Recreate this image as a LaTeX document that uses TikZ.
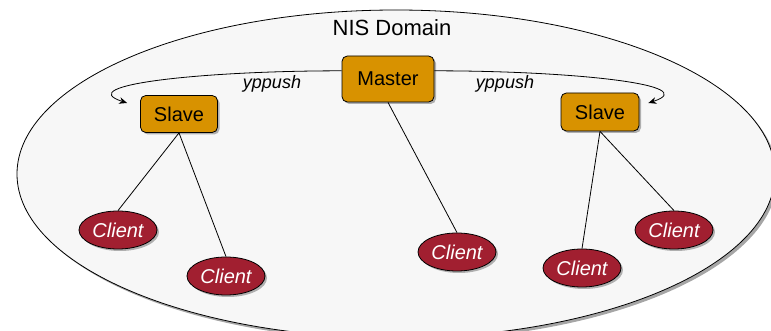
\documentclass[tikz,border=0pt]{standalone}
\usepackage{fontspec}
\setmainfont{Liberation Sans}
\usetikzlibrary{shapes.geometric,shadows,arrows.meta}

\definecolor{serverorange}{HTML}{D89200}
\definecolor{clientred}{HTML}{A11F30}
\definecolor{domaingray}{HTML}{F7F7F7}

\begin{document}
\begin{tikzpicture}[x=0.75pt, y=-0.75pt, line width=0.6pt, >={Stealth[length=6pt,width=5pt]},
        domainring/.style={ellipse, draw, fill=domaingray, inner sep=0pt,
                minimum width=568.5pt, minimum height=246pt,
                drop shadow={shadow xshift=2pt, shadow yshift=-2pt, opacity=0.7}},
        server/.style={draw, fill=serverorange, rounded corners=4pt, inner sep=0pt,
                font=\fontsize{15}{18}\selectfont,
                drop shadow={shadow xshift=1.5pt, shadow yshift=-1.5pt, opacity=0.6}},
        client/.style={ellipse, draw, fill=clientred, text=white, inner sep=0pt,
                minimum width=58.5pt, minimum height=28.5pt,
                font=\fontsize{15}{18}\selectfont\itshape,
                drop shadow={shadow xshift=1.5pt, shadow yshift=-1.5pt, opacity=0.6}},
        push/.style={font=\fontsize{13.5}{16}\selectfont\itshape}]
        \useasboundingbox (0,0) rectangle (771,331);
        \clip (0,0) rectangle (771,331);

        % the domain
        \node[domainring] (nis) at (396,174) {};
        \node[font=\fontsize{16.5}{20}\selectfont, inner sep=0pt] (nistitle) at (392,28) {NIS Domain};

        % servers
        \node[server, minimum width=69pt, minimum height=34.5pt] (master) at (388,79) {Master};
        \node[server, minimum width=57.75pt, minimum height=27.75pt] (lslave) at (179,114) {Slave};
        \node[server, minimum width=58.5pt, minimum height=28.5pt] (rslave) at (600,112) {Slave};

        % clients
        \foreach \name/\x/\y in {c1/118/230, c2/226/276, c3/457/252, c4/582/268, c5/674/230} {
                \node[client] (\name) at (\x,\y) {Client};
            }
        \foreach \from/\to in {lslave/c1, lslave/c2, master/c3, rslave/c4, rslave/c5} {
                \draw (\from.south) -- (\to.north);
            }

        % yppush
        \coordinate (ltip) at ([shift={(-13,-11)}]lslave.west);
        \coordinate (rtip) at ([shift={(9,-9)}]rslave.east);
        \draw[->] (master.170) .. controls +(-140,0) and +(-55,-18) .. (ltip);
        \draw[->] (master.10) .. controls +(140,0) and +(55,-18) .. (rtip);
        \node[push, inner sep=0pt] (lpush) at (272,84) {yppush};
        \node[push, inner sep=0pt] (rpush) at (505,84) {yppush};
    \end{tikzpicture}
\end{document}
